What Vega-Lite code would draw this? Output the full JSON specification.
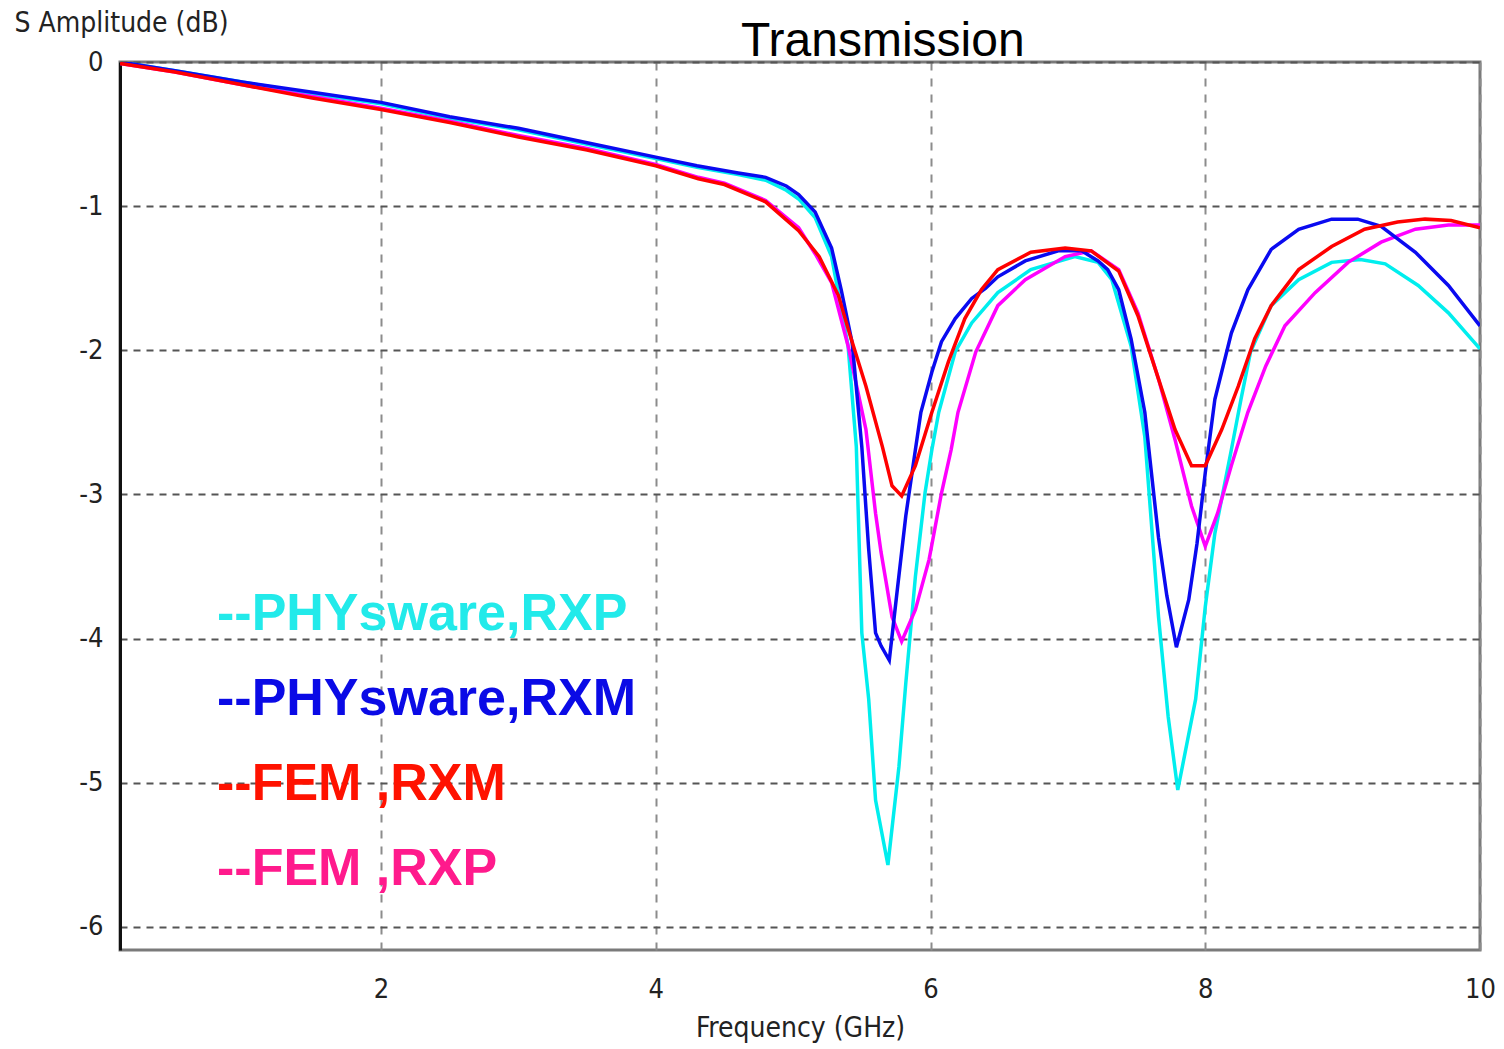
{
  "$schema": "https://vega.github.io/schema/vega-lite/v6.json",
  "width": 1360,
  "height": 888,
  "autosize": "none",
  "padding": {"left": 120, "top": 62, "right": 24, "bottom": 99},
  "background": "white",
  "title": {
    "text": "Transmission",
    "anchor": "start",
    "frame": "group",
    "dx": 621,
    "dy": 102,
    "font": "Liberation Sans",
    "fontSize": 48,
    "fontWeight": "normal",
    "color": "#000000",
    "baseline": "alphabetic",
    "offset": 7
  },
  "config": {
    "view": {"stroke": "#7a7a7a", "strokeWidth": 3},
    "axis": {
      "labelFont": "Liberation Sans Narrow, DejaVu Sans Condensed, sans-serif",
      "titleFont": "Liberation Sans Narrow, DejaVu Sans Condensed, sans-serif",
      "labelColor": "#222222",
      "titleColor": "#222222",
      "labelFontSize": 27,
      "titleFontSize": 28,
      "titleFontWeight": "normal",
      "ticks": false
    }
  },
  "data": {
    "values": [
      {"f": 0.1, "v": 0.0, "s": "PHYsware,RXP"},
      {"f": 0.5, "v": -0.06, "s": "PHYsware,RXP"},
      {"f": 1.0, "v": -0.14, "s": "PHYsware,RXP"},
      {"f": 1.5, "v": -0.22, "s": "PHYsware,RXP"},
      {"f": 2.0, "v": -0.29, "s": "PHYsware,RXP"},
      {"f": 2.5, "v": -0.39, "s": "PHYsware,RXP"},
      {"f": 3.0, "v": -0.47, "s": "PHYsware,RXP"},
      {"f": 3.5, "v": -0.57, "s": "PHYsware,RXP"},
      {"f": 4.0, "v": -0.67, "s": "PHYsware,RXP"},
      {"f": 4.3, "v": -0.73, "s": "PHYsware,RXP"},
      {"f": 4.6, "v": -0.78, "s": "PHYsware,RXP"},
      {"f": 4.8, "v": -0.82, "s": "PHYsware,RXP"},
      {"f": 4.95, "v": -0.89, "s": "PHYsware,RXP"},
      {"f": 5.04, "v": -0.95, "s": "PHYsware,RXP"},
      {"f": 5.16, "v": -1.08, "s": "PHYsware,RXP"},
      {"f": 5.28, "v": -1.35, "s": "PHYsware,RXP"},
      {"f": 5.4, "v": -1.97, "s": "PHYsware,RXP"},
      {"f": 5.46, "v": -2.67, "s": "PHYsware,RXP"},
      {"f": 5.5, "v": -3.96, "s": "PHYsware,RXP"},
      {"f": 5.55, "v": -4.42, "s": "PHYsware,RXP"},
      {"f": 5.6, "v": -5.12, "s": "PHYsware,RXP"},
      {"f": 5.69, "v": -5.57, "s": "PHYsware,RXP"},
      {"f": 5.77, "v": -4.89, "s": "PHYsware,RXP"},
      {"f": 5.82, "v": -4.31, "s": "PHYsware,RXP"},
      {"f": 5.89, "v": -3.57, "s": "PHYsware,RXP"},
      {"f": 5.96, "v": -2.99, "s": "PHYsware,RXP"},
      {"f": 6.01, "v": -2.69, "s": "PHYsware,RXP"},
      {"f": 6.06, "v": -2.43, "s": "PHYsware,RXP"},
      {"f": 6.18, "v": -2.01, "s": "PHYsware,RXP"},
      {"f": 6.3, "v": -1.81, "s": "PHYsware,RXP"},
      {"f": 6.49, "v": -1.6, "s": "PHYsware,RXP"},
      {"f": 6.73, "v": -1.44, "s": "PHYsware,RXP"},
      {"f": 7.05, "v": -1.35, "s": "PHYsware,RXP"},
      {"f": 7.22, "v": -1.39, "s": "PHYsware,RXP"},
      {"f": 7.32, "v": -1.51, "s": "PHYsware,RXP"},
      {"f": 7.46, "v": -1.97, "s": "PHYsware,RXP"},
      {"f": 7.56, "v": -2.6, "s": "PHYsware,RXP"},
      {"f": 7.66, "v": -3.85, "s": "PHYsware,RXP"},
      {"f": 7.73, "v": -4.54, "s": "PHYsware,RXP"},
      {"f": 7.8, "v": -5.05, "s": "PHYsware,RXP"},
      {"f": 7.93, "v": -4.42, "s": "PHYsware,RXP"},
      {"f": 8.0, "v": -3.78, "s": "PHYsware,RXP"},
      {"f": 8.07, "v": -3.27, "s": "PHYsware,RXP"},
      {"f": 8.19, "v": -2.69, "s": "PHYsware,RXP"},
      {"f": 8.26, "v": -2.34, "s": "PHYsware,RXP"},
      {"f": 8.33, "v": -2.01, "s": "PHYsware,RXP"},
      {"f": 8.48, "v": -1.69, "s": "PHYsware,RXP"},
      {"f": 8.68, "v": -1.51, "s": "PHYsware,RXP"},
      {"f": 8.92, "v": -1.39, "s": "PHYsware,RXP"},
      {"f": 9.13, "v": -1.37, "s": "PHYsware,RXP"},
      {"f": 9.31, "v": -1.4, "s": "PHYsware,RXP"},
      {"f": 9.55, "v": -1.55, "s": "PHYsware,RXP"},
      {"f": 9.77, "v": -1.74, "s": "PHYsware,RXP"},
      {"f": 10.0, "v": -1.99, "s": "PHYsware,RXP"},

      {"f": 0.1, "v": -0.01, "s": "FEM ,RXP"},
      {"f": 0.5, "v": -0.07, "s": "FEM ,RXP"},
      {"f": 1.0, "v": -0.16, "s": "FEM ,RXP"},
      {"f": 1.5, "v": -0.24, "s": "FEM ,RXP"},
      {"f": 2.0, "v": -0.32, "s": "FEM ,RXP"},
      {"f": 2.5, "v": -0.41, "s": "FEM ,RXP"},
      {"f": 3.0, "v": -0.51, "s": "FEM ,RXP"},
      {"f": 3.5, "v": -0.6, "s": "FEM ,RXP"},
      {"f": 4.0, "v": -0.71, "s": "FEM ,RXP"},
      {"f": 4.31, "v": -0.8, "s": "FEM ,RXP"},
      {"f": 4.5, "v": -0.84, "s": "FEM ,RXP"},
      {"f": 4.8, "v": -0.96, "s": "FEM ,RXP"},
      {"f": 5.04, "v": -1.15, "s": "FEM ,RXP"},
      {"f": 5.16, "v": -1.33, "s": "FEM ,RXP"},
      {"f": 5.28, "v": -1.53, "s": "FEM ,RXP"},
      {"f": 5.4, "v": -1.97, "s": "FEM ,RXP"},
      {"f": 5.53, "v": -2.55, "s": "FEM ,RXP"},
      {"f": 5.6, "v": -3.13, "s": "FEM ,RXP"},
      {"f": 5.64, "v": -3.4, "s": "FEM ,RXP"},
      {"f": 5.72, "v": -3.85, "s": "FEM ,RXP"},
      {"f": 5.79, "v": -4.02, "s": "FEM ,RXP"},
      {"f": 5.89, "v": -3.8, "s": "FEM ,RXP"},
      {"f": 5.99, "v": -3.45, "s": "FEM ,RXP"},
      {"f": 6.08, "v": -2.99, "s": "FEM ,RXP"},
      {"f": 6.15, "v": -2.69, "s": "FEM ,RXP"},
      {"f": 6.2, "v": -2.43, "s": "FEM ,RXP"},
      {"f": 6.33, "v": -2.01, "s": "FEM ,RXP"},
      {"f": 6.49, "v": -1.69, "s": "FEM ,RXP"},
      {"f": 6.69, "v": -1.51, "s": "FEM ,RXP"},
      {"f": 6.98, "v": -1.35, "s": "FEM ,RXP"},
      {"f": 7.17, "v": -1.31, "s": "FEM ,RXP"},
      {"f": 7.37, "v": -1.44, "s": "FEM ,RXP"},
      {"f": 7.51, "v": -1.74, "s": "FEM ,RXP"},
      {"f": 7.66, "v": -2.2, "s": "FEM ,RXP"},
      {"f": 7.78, "v": -2.62, "s": "FEM ,RXP"},
      {"f": 7.9, "v": -3.08, "s": "FEM ,RXP"},
      {"f": 8.0, "v": -3.36, "s": "FEM ,RXP"},
      {"f": 8.09, "v": -3.13, "s": "FEM ,RXP"},
      {"f": 8.19, "v": -2.8, "s": "FEM ,RXP"},
      {"f": 8.31, "v": -2.43, "s": "FEM ,RXP"},
      {"f": 8.44, "v": -2.11, "s": "FEM ,RXP"},
      {"f": 8.58, "v": -1.83, "s": "FEM ,RXP"},
      {"f": 8.8, "v": -1.6, "s": "FEM ,RXP"},
      {"f": 9.04, "v": -1.39, "s": "FEM ,RXP"},
      {"f": 9.28, "v": -1.25, "s": "FEM ,RXP"},
      {"f": 9.53, "v": -1.16, "s": "FEM ,RXP"},
      {"f": 9.77, "v": -1.13, "s": "FEM ,RXP"},
      {"f": 10.0, "v": -1.13, "s": "FEM ,RXP"},

      {"f": 0.1, "v": 0.0, "s": "PHYsware,RXM"},
      {"f": 0.5, "v": -0.06, "s": "PHYsware,RXM"},
      {"f": 1.0, "v": -0.14, "s": "PHYsware,RXM"},
      {"f": 1.5, "v": -0.21, "s": "PHYsware,RXM"},
      {"f": 2.0, "v": -0.28, "s": "PHYsware,RXM"},
      {"f": 2.5, "v": -0.38, "s": "PHYsware,RXM"},
      {"f": 3.0, "v": -0.46, "s": "PHYsware,RXM"},
      {"f": 3.5, "v": -0.56, "s": "PHYsware,RXM"},
      {"f": 4.0, "v": -0.66, "s": "PHYsware,RXM"},
      {"f": 4.3, "v": -0.72, "s": "PHYsware,RXM"},
      {"f": 4.6, "v": -0.77, "s": "PHYsware,RXM"},
      {"f": 4.8, "v": -0.8, "s": "PHYsware,RXM"},
      {"f": 4.95, "v": -0.86, "s": "PHYsware,RXM"},
      {"f": 5.04, "v": -0.92, "s": "PHYsware,RXM"},
      {"f": 5.16, "v": -1.04, "s": "PHYsware,RXM"},
      {"f": 5.28, "v": -1.29, "s": "PHYsware,RXM"},
      {"f": 5.35, "v": -1.58, "s": "PHYsware,RXM"},
      {"f": 5.43, "v": -1.95, "s": "PHYsware,RXM"},
      {"f": 5.5, "v": -2.67, "s": "PHYsware,RXM"},
      {"f": 5.55, "v": -3.38, "s": "PHYsware,RXM"},
      {"f": 5.6, "v": -3.96, "s": "PHYsware,RXM"},
      {"f": 5.64, "v": -4.05, "s": "PHYsware,RXM"},
      {"f": 5.7, "v": -4.15, "s": "PHYsware,RXM"},
      {"f": 5.75, "v": -3.73, "s": "PHYsware,RXM"},
      {"f": 5.82, "v": -3.15, "s": "PHYsware,RXM"},
      {"f": 5.89, "v": -2.69, "s": "PHYsware,RXM"},
      {"f": 5.93, "v": -2.43, "s": "PHYsware,RXM"},
      {"f": 6.01, "v": -2.15, "s": "PHYsware,RXM"},
      {"f": 6.08, "v": -1.94, "s": "PHYsware,RXM"},
      {"f": 6.18, "v": -1.78, "s": "PHYsware,RXM"},
      {"f": 6.3, "v": -1.64, "s": "PHYsware,RXM"},
      {"f": 6.4, "v": -1.57, "s": "PHYsware,RXM"},
      {"f": 6.49, "v": -1.49, "s": "PHYsware,RXM"},
      {"f": 6.69, "v": -1.38, "s": "PHYsware,RXM"},
      {"f": 6.93, "v": -1.31, "s": "PHYsware,RXM"},
      {"f": 7.1, "v": -1.31, "s": "PHYsware,RXM"},
      {"f": 7.22, "v": -1.38, "s": "PHYsware,RXM"},
      {"f": 7.29, "v": -1.44, "s": "PHYsware,RXM"},
      {"f": 7.37, "v": -1.58, "s": "PHYsware,RXM"},
      {"f": 7.46, "v": -1.92, "s": "PHYsware,RXM"},
      {"f": 7.56, "v": -2.43, "s": "PHYsware,RXM"},
      {"f": 7.66, "v": -3.3, "s": "PHYsware,RXM"},
      {"f": 7.72, "v": -3.7, "s": "PHYsware,RXM"},
      {"f": 7.79, "v": -4.06, "s": "PHYsware,RXM"},
      {"f": 7.88, "v": -3.73, "s": "PHYsware,RXM"},
      {"f": 7.94, "v": -3.34, "s": "PHYsware,RXM"},
      {"f": 8.0, "v": -2.85, "s": "PHYsware,RXM"},
      {"f": 8.07, "v": -2.34, "s": "PHYsware,RXM"},
      {"f": 8.19, "v": -1.88, "s": "PHYsware,RXM"},
      {"f": 8.31, "v": -1.58, "s": "PHYsware,RXM"},
      {"f": 8.48, "v": -1.3, "s": "PHYsware,RXM"},
      {"f": 8.68, "v": -1.16, "s": "PHYsware,RXM"},
      {"f": 8.92, "v": -1.09, "s": "PHYsware,RXM"},
      {"f": 9.11, "v": -1.09, "s": "PHYsware,RXM"},
      {"f": 9.28, "v": -1.14, "s": "PHYsware,RXM"},
      {"f": 9.53, "v": -1.32, "s": "PHYsware,RXM"},
      {"f": 9.77, "v": -1.55, "s": "PHYsware,RXM"},
      {"f": 10.0, "v": -1.83, "s": "PHYsware,RXM"},

      {"f": 0.1, "v": -0.01, "s": "FEM ,RXM"},
      {"f": 0.5, "v": -0.07, "s": "FEM ,RXM"},
      {"f": 1.0, "v": -0.16, "s": "FEM ,RXM"},
      {"f": 1.5, "v": -0.25, "s": "FEM ,RXM"},
      {"f": 2.0, "v": -0.33, "s": "FEM ,RXM"},
      {"f": 2.5, "v": -0.42, "s": "FEM ,RXM"},
      {"f": 3.0, "v": -0.52, "s": "FEM ,RXM"},
      {"f": 3.5, "v": -0.61, "s": "FEM ,RXM"},
      {"f": 4.0, "v": -0.72, "s": "FEM ,RXM"},
      {"f": 4.31, "v": -0.81, "s": "FEM ,RXM"},
      {"f": 4.5, "v": -0.85, "s": "FEM ,RXM"},
      {"f": 4.8, "v": -0.97, "s": "FEM ,RXM"},
      {"f": 5.04, "v": -1.17, "s": "FEM ,RXM"},
      {"f": 5.19, "v": -1.35, "s": "FEM ,RXM"},
      {"f": 5.33, "v": -1.62, "s": "FEM ,RXM"},
      {"f": 5.4, "v": -1.85, "s": "FEM ,RXM"},
      {"f": 5.53, "v": -2.25, "s": "FEM ,RXM"},
      {"f": 5.65, "v": -2.67, "s": "FEM ,RXM"},
      {"f": 5.72, "v": -2.94, "s": "FEM ,RXM"},
      {"f": 5.79, "v": -3.01, "s": "FEM ,RXM"},
      {"f": 5.89, "v": -2.8, "s": "FEM ,RXM"},
      {"f": 6.01, "v": -2.43, "s": "FEM ,RXM"},
      {"f": 6.13, "v": -2.08, "s": "FEM ,RXM"},
      {"f": 6.25, "v": -1.78, "s": "FEM ,RXM"},
      {"f": 6.37, "v": -1.58, "s": "FEM ,RXM"},
      {"f": 6.49, "v": -1.44, "s": "FEM ,RXM"},
      {"f": 6.73, "v": -1.32, "s": "FEM ,RXM"},
      {"f": 6.98, "v": -1.29, "s": "FEM ,RXM"},
      {"f": 7.17, "v": -1.31, "s": "FEM ,RXM"},
      {"f": 7.37, "v": -1.45, "s": "FEM ,RXM"},
      {"f": 7.51, "v": -1.76, "s": "FEM ,RXM"},
      {"f": 7.66, "v": -2.2, "s": "FEM ,RXM"},
      {"f": 7.78, "v": -2.55, "s": "FEM ,RXM"},
      {"f": 7.9, "v": -2.8, "s": "FEM ,RXM"},
      {"f": 8.0, "v": -2.8, "s": "FEM ,RXM"},
      {"f": 8.12, "v": -2.55, "s": "FEM ,RXM"},
      {"f": 8.24, "v": -2.25, "s": "FEM ,RXM"},
      {"f": 8.36, "v": -1.92, "s": "FEM ,RXM"},
      {"f": 8.48, "v": -1.69, "s": "FEM ,RXM"},
      {"f": 8.68, "v": -1.44, "s": "FEM ,RXM"},
      {"f": 8.92, "v": -1.28, "s": "FEM ,RXM"},
      {"f": 9.16, "v": -1.16, "s": "FEM ,RXM"},
      {"f": 9.4, "v": -1.11, "s": "FEM ,RXM"},
      {"f": 9.6, "v": -1.09, "s": "FEM ,RXM"},
      {"f": 9.79, "v": -1.1, "s": "FEM ,RXM"},
      {"f": 10.0, "v": -1.15, "s": "FEM ,RXM"}
    ]
  },
  "mark": {"type": "line", "strokeWidth": 3.5, "clip": true},
  "encoding": {
    "x": {
      "field": "f",
      "type": "quantitative",
      "scale": {"domain": [0.1, 10], "nice": false, "zero": false},
      "axis": {
        "title": "Frequency (GHz)",
        "values": [2, 4, 6, 8, 10],
        "labelFlush": false,
        "labelPadding": 26,
        "titlePadding": 12,
        "domain": false,
        "grid": true,
        "gridColor": "#8c8c8c",
        "gridDash": [8, 8],
        "gridWidth": 2
      }
    },
    "y": {
      "field": "v",
      "type": "quantitative",
      "scale": {"domain": [-6.16, 0], "nice": false, "zero": false},
      "axis": {
        "title": "S Amplitude (dB)",
        "titleAngle": 0,
        "titleAlign": "left",
        "titleBaseline": "middle",
        "titleX": -106,
        "titleY": -39,
        "values": [0, -1, -2, -3, -4, -5, -6],
        "labelExpr": "'' + datum.value",
        "labelPadding": 17,
        "labelBaseline": "middle",
        "domain": true,
        "domainColor": "#111111",
        "domainWidth": 3,
        "grid": true,
        "gridColor": "#555555",
        "gridDash": [7, 6],
        "gridWidth": 2
      }
    },
    "color": {
      "field": "s",
      "type": "nominal",
      "sort": null,
      "scale": {
        "domain": ["PHYsware,RXP", "PHYsware,RXM", "FEM ,RXM", "FEM ,RXP"],
        "range": ["#00eeee", "#0a0af0", "#ff0000", "#ff00ff"]
      },
      "legend": {
        "orient": "none",
        "legendX": 45,
        "legendY": 526,
        "title": null,
        "padding": 0,
        "symbolSize": 0,
        "symbolOpacity": 0,
        "symbolStrokeWidth": 0,
        "labelOffset": 0,
        "labelFont": "Liberation Sans",
        "labelFontWeight": "bold",
        "labelFontSize": 52,
        "labelLimit": 800,
        "rowPadding": 33,
        "labelExpr": "'--' + datum.label",
        "encode": {
          "labels": {
            "update": {
              "fill": {"signal": "datum.value === 'FEM ,RXP' ? '#ff1a8c' : datum.value === 'PHYsware,RXP' ? '#22eaea' : datum.value === 'PHYsware,RXM' ? '#0a0ae6' : '#ff1200'"}
            }
          }
        }
      }
    }
  }
}
